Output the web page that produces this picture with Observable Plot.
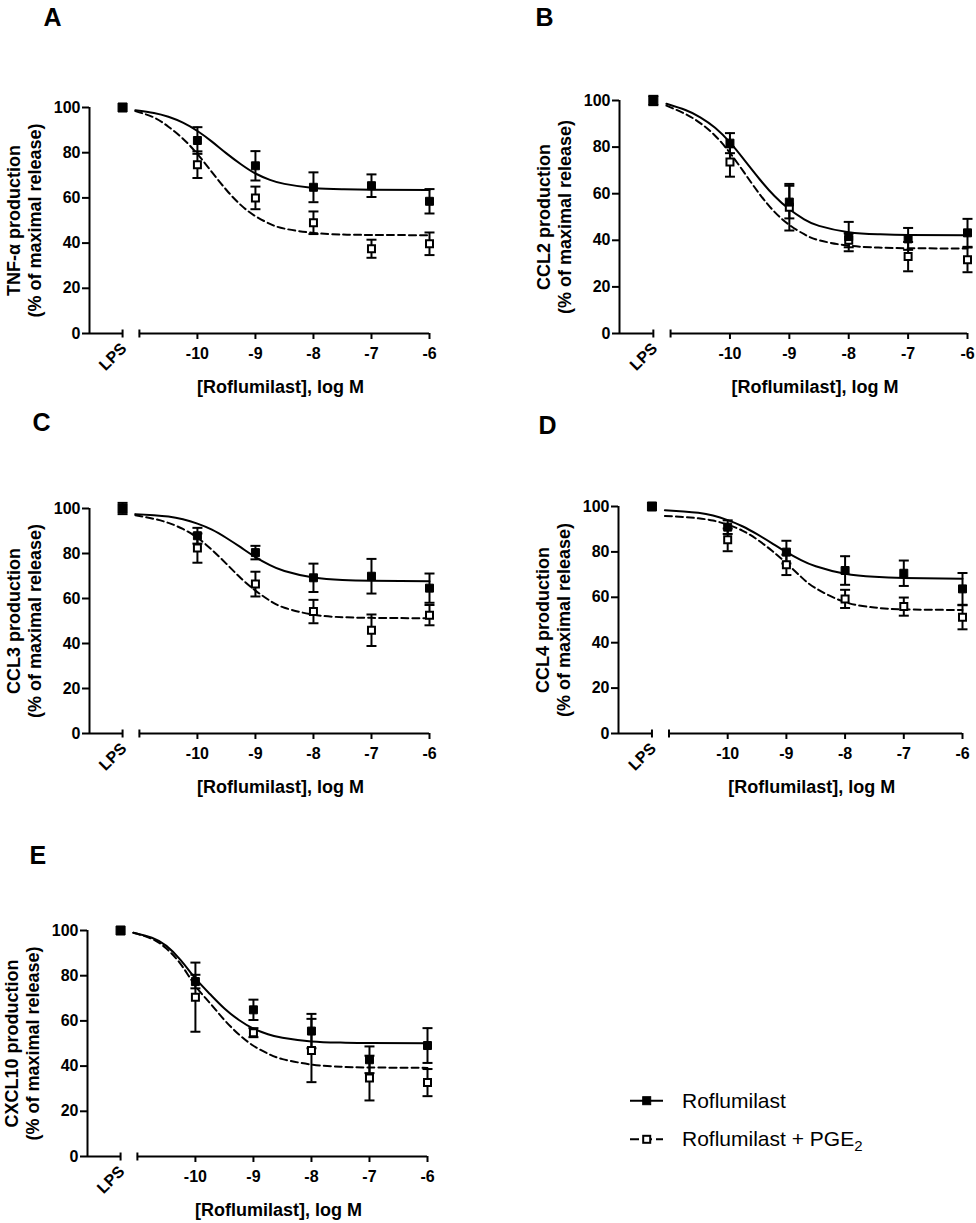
<!DOCTYPE html>
<html>
<head>
<meta charset="utf-8">
<script src="https://cdn.jsdelivr.net/npm/d3@7"></script>
<script src="https://cdn.jsdelivr.net/npm/@observablehq/plot@0.6"></script>
<style>
  html, body { margin: 0; padding: 0; background: #fff; }
  #fig { position: relative; width: 976px; height: 1223px; font-family: "Liberation Sans", Arial, sans-serif; }
  #fig svg { position: absolute; overflow: visible; background: transparent; max-width: none; }
</style>
</head>
<body>
<div id="fig"></div>
<script>
// ---------- shared categories / tick labels ----------
const doses = [-10, -9, -8, -7, -6];             // log M
const lpsPos = -11.29;                           // position of the LPS control on the broken axis
const axisBreakStart = -11;                      // start of the concentration segment
const xDomain = [-11.86, -6];
const xTicks = [-10, -9, -8, -7, -6];
const xTickLabels = ["-10", "-9", "-8", "-7", "-6"];
const yTicks = [0, 20, 40, 60, 80, 100];
const fitX = [-11.07, -10.75, -10.5, -10.25, -10, -9.75, -9.5, -9.25, -9, -8.75, -8.5, -8, -7.5, -7, -6];
const panelLetters = ["A", "B", "C", "D", "E"];
const yTitles = ["TNF-\u03b1 production", "CCL2 production", "CCL3 production", "CCL4 production", "CXCL10 production"];
const yTitle2 = "(% of maximal release)";
const xTitle = "[Roflumilast], log M";
const lpsLabel = "LPS";
const seriesNames = ["Roflumilast", "Roflumilast + PGE"];

// LPS control (100 %) per panel
const lpsMean = [100, 100, 100, 100, 100];
const lpsErr = [0, 2, 2.5, 0, 0];

// ---------- A: TNF-alpha ----------
const tnfRof = [85.4, 74.2, 64.7, 65.4, 58.5];
const tnfRofErr = [5.9, 6.5, 6.6, 5, 5.4];
const tnfPge = [74.7, 60, 49, 37.5, 39.7];
const tnfPgeErr = [5.9, 5, 5, 4, 5];
const tnfRofFit = [98.8, 97.6, 95.9, 93.3, 89.6, 84.9, 79.7, 74.9, 70.8, 68.0, 66.2, 64.4, 63.8, 63.6, 63.5];
const tnfPgeFit = [98.4, 95.6, 91.5, 86.2, 79.4, 71.4, 63.5, 56.8, 51.9, 48.5, 46.4, 44.5, 43.8, 43.6, 43.5];

// ---------- B: CCL2 ----------
const ccl2Rof = [81.7, 56.4, 41.6, 40.6, 43.2];
const ccl2RofErr = [4.3, 7, 6.3, 4.7, 6];
const ccl2Pge = [73.6, 54.2, 40, 33, 31.6];
const ccl2PgeErr = [6.3, 10, 3, 6.3, 5.3];
const ccl2RofFit = [98.6, 95.9, 92.8, 88.3, 82.0, 74.2, 66.2, 59.0, 53.3, 49.0, 46.2, 43.5, 42.6, 42.3, 42.2];
const ccl2PgeFit = [97.8, 94.2, 90.3, 84.9, 77.5, 68.7, 59.8, 52.2, 46.6, 42.6, 40.0, 37.7, 36.9, 36.6, 36.5];

// ---------- C: CCL3 ----------
const ccl3Rof = [87.9, 80.4, 69.2, 69.9, 64.6];
const ccl3RofErr = [3.5, 3, 6.3, 7.7, 6.5];
const ccl3Pge = [82.4, 66.4, 54.2, 45.9, 52.6];
const ccl3PgeErr = [6.5, 5.5, 5.2, 7, 4.5];
const ccl3RofFit = [97.5, 97.0, 96.4, 95.2, 93.3, 90.6, 86.9, 82.7, 78.4, 74.8, 72.2, 69.3, 68.2, 67.9, 67.7];
const ccl3PgeFit = [97.0, 95.4, 93.6, 90.9, 87.0, 81.6, 75.4, 69.0, 63.5, 59.0, 55.9, 52.8, 51.7, 51.4, 51.2];

// ---------- D: CCL4 ----------
const ccl4Rof = [90.9, 79.9, 71.8, 70.6, 63.7];
const ccl4RofErr = [3, 5, 6.3, 5.6, 7];
const ccl4Pge = [85.3, 74.3, 59.3, 55.9, 51.2];
const ccl4PgeErr = [5, 4.5, 4, 4, 5.3];
const ccl4RofFit = [98.3, 97.8, 97.2, 96.0, 94.0, 91.3, 87.8, 83.9, 79.9, 76.4, 73.7, 70.4, 69.0, 68.5, 68.2];
const ccl4PgeFit = [95.8, 95.4, 94.8, 93.8, 92.0, 89.4, 85.5, 80.6, 75.0, 69.0, 64.0, 57.9, 55.5, 54.7, 54.4];

// ---------- E: CXCL10 ----------
const cxcl10Rof = [77.4, 64.9, 55.5, 42.8, 49.1];
const cxcl10RofErr = [3, 4.5, 7.6, 5.9, 7.7];
const cxcl10Pge = [70.5, 54.8, 46.9, 34.7, 32.7];
const cxcl10PgeErr = [15.3, 2, 14, 9.9, 6];
const cxcl10RofFit = [99.0, 96.8, 93.2, 86.8, 78.8, 71.9, 65.5, 60.4, 56.6, 54.1, 52.5, 50.9, 50.4, 50.2, 50.1];
const cxcl10PgeFit = [99.0, 96.3, 92.0, 85.0, 75.5, 67.9, 60.4, 54.0, 49.0, 45.5, 43.1, 40.7, 39.7, 39.4, 39.2];

// ---------- assemble ----------
const rofMeans = [tnfRof, ccl2Rof, ccl3Rof, ccl4Rof, cxcl10Rof];
const rofErrs = [tnfRofErr, ccl2RofErr, ccl3RofErr, ccl4RofErr, cxcl10RofErr];
const pgeMeans = [tnfPge, ccl2Pge, ccl3Pge, ccl4Pge, cxcl10Pge];
const pgeErrs = [tnfPgeErr, ccl2PgeErr, ccl3PgeErr, ccl4PgeErr, cxcl10PgeErr];
const rofFits = [tnfRofFit, ccl2RofFit, ccl3RofFit, ccl4RofFit, cxcl10RofFit];
const pgeFits = [tnfPgeFit, ccl2PgeFit, ccl3PgeFit, ccl4PgeFit, cxcl10PgeFit];

// layout (pixel boxes of each panel's plotting frame)
const layouts = [
  {ox: 0,   oy: 0,   w: 488, h: 410, left: 89,  right: 429, top: 107, bottom: 333, lx: -46, ly: -82},
  {ox: 488, oy: 0,   w: 488, h: 410, left: 619, right: 967, top: 100, bottom: 333, lx: -84, ly: -75},
  {ox: 0,   oy: 410, w: 488, h: 410, left: 89,  right: 429, top: 508, bottom: 733, lx: -57, ly: -78},
  {ox: 488, oy: 410, w: 488, h: 410, left: 618, right: 962, top: 506, bottom: 733, lx: -80, ly: -73},
  {ox: 0,   oy: 820, w: 488, h: 403, left: 87,  right: 427, top: 930, bottom: 1156, lx: -58, ly: -67}
];

const FONT = '"Liberation Sans", Arial, sans-serif';
const hCap = {draw(ctx, size) { const r = Math.sqrt(size / Math.PI); ctx.moveTo(-r, 0); ctx.lineTo(r, 0); }};
const vCap = {draw(ctx, size) { const r = Math.sqrt(size / Math.PI); ctx.moveTo(0, -r); ctx.lineTo(0, r); }};

const fig = document.getElementById("fig");

function errMarks(pts) {
  const withErr = pts.filter(d => d.e > 0);
  return [
    Plot.ruleX(withErr, {x: "x", y1: d => d.y - d.e, y2: d => d.y + d.e, stroke: "black", strokeWidth: 2}),
    Plot.dot(withErr, {x: "x", y: d => d.y + d.e, symbol: hCap, r: 5, stroke: "black", strokeWidth: 2, fill: "none"}),
    Plot.dot(withErr, {x: "x", y: d => d.y - d.e, symbol: hCap, r: 5, stroke: "black", strokeWidth: 2, fill: "none"})
  ];
}

layouts.forEach((L, i) => {
  const rofPts = doses.map((x, j) => ({x, y: rofMeans[i][j], e: rofErrs[i][j]}));
  const pgePts = doses.map((x, j) => ({x, y: pgeMeans[i][j], e: pgeErrs[i][j]}));
  const lpsPts = [{x: lpsPos, y: lpsMean[i], e: lpsErr[i]}];
  const rofFit = fitX.map((x, j) => ({x, y: rofFits[i][j]}));
  const pgeFit = fitX.map((x, j) => ({x, y: pgeFits[i][j]}));

  const svg = Plot.plot({
    width: L.w,
    height: L.h,
    marginLeft: L.left - L.ox,
    marginRight: L.ox + L.w - L.right,
    marginTop: L.top - L.oy,
    marginBottom: L.oy + L.h - L.bottom,
    x: {domain: xDomain},
    y: {domain: [0, 100]},
    style: {fontFamily: FONT, fontSize: "16px", fontWeight: "bold", background: "transparent", color: "black", overflow: "visible"},
    marks: [
      // axes
      Plot.axisY(yTicks, {tickSize: 7, tickPadding: 2, strokeWidth: 2, fontSize: 16, fontWeight: "bold",
        tickFormat: d => String(d), label: null}),
      Plot.axisX(xTicks, {tickSize: 6, tickPadding: 8, strokeWidth: 2, fontSize: 16, fontWeight: "bold",
        tickFormat: d => xTickLabels[xTicks.indexOf(d)], label: null}),
      Plot.ruleX([xDomain[0]], {y1: 0, y2: 100, stroke: "black", strokeWidth: 2}),
      Plot.ruleY([0], {x1: xDomain[0], x2: lpsPos, stroke: "black", strokeWidth: 2}),
      Plot.ruleY([0], {x1: axisBreakStart, x2: xDomain[1], stroke: "black", strokeWidth: 2}),
      Plot.dot([lpsPos, axisBreakStart], {x: d => d, y: 0, symbol: vCap, r: 4, stroke: "black", strokeWidth: 2, fill: "none"}),
      Plot.text([lpsLabel], {x: lpsPos, y: 0, text: d => d, rotate: -45, textAnchor: "end", lineAnchor: "bottom",
        dx: 5, dy: 16, fontSize: 16, fontWeight: "bold"}),
      // titles
      Plot.text([xTitle], {x: -8.57, y: 0, text: d => d, dy: 59, lineAnchor: "bottom", textAnchor: "middle",
        fontSize: 18, fontWeight: "bold"}),
      Plot.text([yTitles[i]], {frameAnchor: "left", text: d => d, rotate: -90, dx: -75, textAnchor: "middle",
        lineAnchor: "middle", fontSize: 18, fontWeight: "bold"}),
      Plot.text([yTitle2], {frameAnchor: "left", text: d => d, rotate: -90, dx: -54, textAnchor: "middle",
        lineAnchor: "middle", fontSize: 18, fontWeight: "bold"}),
      Plot.text([panelLetters[i]], {frameAnchor: "top-left", text: d => d, dx: L.lx, dy: L.ly, textAnchor: "start",
        lineAnchor: "bottom", fontSize: 25, fontWeight: "bold"}),
      // fitted curves
      Plot.line(pgeFit, {x: "x", y: "y", curve: "natural", stroke: "black", strokeWidth: 2, strokeDasharray: "7,4"}),
      Plot.line(rofFit, {x: "x", y: "y", curve: "natural", stroke: "black", strokeWidth: 2}),
      // error bars
      ...errMarks(pgePts),
      ...errMarks(rofPts),
      ...errMarks(lpsPts),
      // points
      Plot.dot(pgePts, {x: "x", y: "y", symbol: "square", r: 3.95, fill: "white", stroke: "black", strokeWidth: 2}),
      Plot.dot(rofPts, {x: "x", y: "y", symbol: "square", r: 4.5, fill: "black", stroke: "black", strokeWidth: 1}),
      Plot.dot(lpsPts, {x: "x", y: "y", symbol: "square", r: 5.1, fill: "black", stroke: "black", strokeWidth: 1})
    ]
  });
  svg.style.left = L.ox + "px";
  svg.style.top = L.oy + "px";
  fig.appendChild(svg);
});

// ---------- legend ----------
const leg = d3.select(fig).append("svg")
  .attr("width", 340).attr("height", 80)
  .style("left", "620px").style("top", "1080px")
  .attr("font-family", FONT);
const rows = [
  {y: 20.7, dash: null, fill: "black", sw: 1, side: 9, name: seriesNames[0]},
  {y: 59.3, dash: "9,4", fill: "white", sw: 2, side: 9, name: seriesNames[1]}
];
rows.forEach((r, k) => {
  const g = leg.append("g");
  g.append("line").attr("x1", 10).attr("x2", 43).attr("y1", r.y).attr("y2", r.y)
    .attr("stroke", "black").attr("stroke-width", 2).attr("stroke-dasharray", r.dash);
  const s = r.side - r.sw;
  g.append("rect").attr("x", 26.7 - s / 2).attr("y", r.y - s / 2).attr("width", s).attr("height", s)
    .attr("fill", r.fill).attr("stroke", "black").attr("stroke-width", r.sw);
  const t = g.append("text").attr("x", 62).attr("y", r.y + 7).attr("font-size", 21).text(r.name);
  if (k === 1) t.append("tspan").attr("font-size", 15).attr("dy", 5).text("2");
});
</script>
</body>
</html>
